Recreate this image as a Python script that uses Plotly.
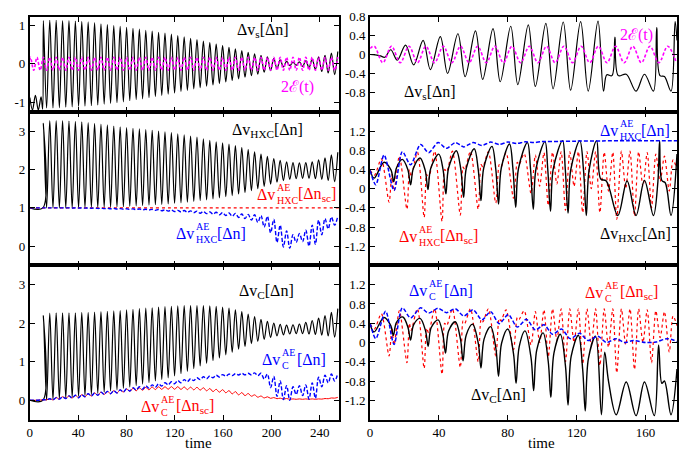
import plotly.graph_objects as go

# ---------------- data ----------------
# left column: extrema times (t >= 11.2) shared by the left-hand curves
LEFT_T = [11.2, 13.85, 16.5, 19.15, 21.8, 24.45, 27.1, 29.75, 32.4, 35.05,
          37.7, 40.35, 43.0, 45.65, 48.3, 50.95, 53.6, 56.25, 58.9, 61.55,
          64.2, 66.85, 69.5, 72.15, 74.8, 77.45, 80.1, 82.75, 85.4, 88.05,
          90.7, 93.35, 96.0, 98.65, 101.3, 103.95, 106.6, 109.25, 111.9, 114.55,
          117.2, 119.85, 122.5, 125.15, 127.8, 130.45, 133.1, 135.75, 138.4, 141.05,
          143.7, 146.35, 149.0, 151.65, 154.3, 156.95, 159.6, 162.25, 164.9, 167.55,
          170.2, 172.85, 175.5, 178.15, 180.8, 183.45, 186.1, 188.75, 191.4, 194.05,
          196.7, 199.35, 202.0, 204.65, 207.3, 209.95, 212.6, 215.25, 217.9, 220.55,
          223.2, 225.85, 228.5, 231.15, 233.8, 236.45, 239.1, 241.75, 244.4, 247.05,
          249.7, 252.35, 255.0]

# top-left: Delta v_s [Delta n]
TL_S_PRE_T = [0, 2.2, 4.6, 7.0, 9.3, 10.6]
TL_S_PRE_V = [-0.88, -1.2, -0.82, -1.2, -0.86, -1.18]
TL_S_V = [1.12, -1.15, 1.13, -1.15, 1.13, -1.14, 1.12, -1.13, 1.12, -1.12,
          1.11, -1.11, 1.1, -1.1, 1.09, -1.09, 1.07, -1.07, 1.04, -1.05,
          1.02, -1.03, 0.99, -1.01, 0.97, -0.99, 0.95, -0.96, 0.92, -0.93,
          0.9, -0.91, 0.87, -0.88, 0.85, -0.85, 0.82, -0.82, 0.8, -0.79,
          0.77, -0.76, 0.73, -0.72, 0.7, -0.69, 0.66, -0.65, 0.63, -0.62,
          0.59, -0.58, 0.55, -0.55, 0.51, -0.51, 0.47, -0.47, 0.43, -0.43,
          0.39, -0.39, 0.34, -0.35, 0.3, -0.31, 0.26, -0.27, 0.22, -0.22,
          0.18, -0.18, 0.14, -0.13, 0.1, -0.08, 0.06, -0.05, 0.04, -0.04,
          0.05, -0.07, 0.08, -0.1, 0.12, -0.15, 0.18, -0.2, 0.22, -0.24,
          0.28, -0.28, 0.32]
# top-left: 2E(t)
TL_E_PRE_T = [0, 0.6, 3.25, 5.9, 8.55]
TL_E_PRE_V = [0.1, 0.17, -0.17, 0.17, -0.17]
TL_E_V = [0.17, -0.17, 0.17, -0.17, 0.17, -0.17, 0.17, -0.17, 0.17, -0.17,
          0.17, -0.17, 0.17, -0.17, 0.17, -0.17, 0.17, -0.17, 0.17, -0.17,
          0.17, -0.17, 0.17, -0.17, 0.17, -0.17, 0.17, -0.17, 0.17, -0.17,
          0.17, -0.17, 0.17, -0.17, 0.17, -0.17, 0.17, -0.17, 0.17, -0.17,
          0.17, -0.17, 0.17, -0.17, 0.17, -0.17, 0.17, -0.17, 0.17, -0.17,
          0.17, -0.17, 0.17, -0.17, 0.17, -0.17, 0.17, -0.17, 0.17, -0.17,
          0.17, -0.17, 0.17, -0.17, 0.17, -0.17, 0.17, -0.17, 0.17, -0.17,
          0.17, -0.17, 0.17, -0.17, 0.17, -0.17, 0.17, -0.17, 0.17, -0.17,
          0.17, -0.17, 0.17, -0.17, 0.17, -0.17, 0.17, -0.17, 0.17, -0.17,
          0.17, -0.17, 0.17]

# middle-left: Delta v_HXC [Delta n]
ML_K_PRE_T = [0, 10.8]
ML_K_PRE_V = [1.0, 1.0]
ML_K_V = [3.2, 1.0, 3.27, 1.0, 3.27, 1.0, 3.27, 1.0, 3.26, 1.0,
          3.25, 1.0, 3.24, 1.01, 3.22, 1.01, 3.2, 1.01, 3.18, 1.02,
          3.16, 1.02, 3.13, 1.03, 3.11, 1.03, 3.09, 1.04, 3.07, 1.05,
          3.06, 1.06, 3.04, 1.07, 3.02, 1.08, 3.0, 1.09, 2.98, 1.1,
          2.96, 1.12, 2.93, 1.13, 2.9, 1.15, 2.87, 1.17, 2.84, 1.19,
          2.8, 1.21, 2.76, 1.23, 2.72, 1.26, 2.69, 1.29, 2.66, 1.32,
          2.62, 1.36, 2.57, 1.4, 2.52, 1.45, 2.46, 1.5, 2.4, 1.56,
          2.34, 1.62, 2.28, 1.67, 2.24, 1.71, 2.2, 1.74, 2.18, 1.76,
          2.17, 1.77, 2.18, 1.77, 2.2, 1.76, 2.25, 1.74, 2.3, 1.71,
          2.38, 1.68, 2.45]
# middle-left: Delta v^AE_HXC [Delta n_sc]
ML_R_T = [0, 128, 256]
ML_R_V = [1.0, 1.0, 1.0]
# middle-left: Delta v^AE_HXC [Delta n]
ML_B_PRE_T = [0, 6.0]
ML_B_PRE_V = [1.0, 1.0]
ML_B_V = [1.0, 0.998, 1.0, 0.998, 1.0, 0.997, 1.0, 0.997, 0.999, 0.995,
          0.999, 0.994, 0.998, 0.992, 0.998, 0.99, 0.995, 0.985, 0.99, 0.98,
          0.988, 0.975, 0.985, 0.97, 0.98, 0.965, 0.977, 0.96, 0.973, 0.955,
          0.97, 0.95, 0.965, 0.943, 0.96, 0.935, 0.955, 0.925, 0.95, 0.915,
          0.945, 0.905, 0.935, 0.895, 0.93, 0.885, 0.92, 0.875, 0.915, 0.86,
          0.905, 0.85, 0.895, 0.835, 0.885, 0.82, 0.875, 0.8, 0.865, 0.78,
          0.855, 0.75, 0.84, 0.72, 0.83, 0.68, 0.82, 0.62, 0.8, 0.5,
          0.78, 0.35, 0.7, 0.1, 0.55, -0.02, 0.4, -0.05, 0.3, 0.1,
          0.33, 0.12, 0.42, 0.0, 0.55, 0.05, 0.68, 0.3, 0.72, 0.45,
          0.76, 0.55, 0.78]

# bottom-left: Delta v_C [Delta n]
BL_K_PRE_T = [0, 10.8]
BL_K_PRE_V = [0.0, 0.0]
BL_K_V = [2.2, 0.0, 2.26, 0.02, 2.27, 0.04, 2.27, 0.06, 2.27, 0.08,
          2.27, 0.1, 2.28, 0.12, 2.28, 0.15, 2.29, 0.18, 2.3, 0.21,
          2.31, 0.24, 2.32, 0.27, 2.33, 0.31, 2.35, 0.34, 2.36, 0.38,
          2.38, 0.42, 2.39, 0.46, 2.4, 0.5, 2.42, 0.54, 2.43, 0.58,
          2.44, 0.63, 2.45, 0.69, 2.46, 0.75, 2.46, 0.82, 2.46, 0.89,
          2.46, 0.96, 2.45, 1.03, 2.44, 1.1, 2.42, 1.18, 2.39, 1.25,
          2.35, 1.33, 2.3, 1.4, 2.24, 1.47, 2.17, 1.53, 2.1, 1.58,
          2.05, 1.63, 2.0, 1.67, 1.97, 1.7, 1.95, 1.72, 1.96, 1.73,
          1.98, 1.73, 2.02, 1.72, 2.07, 1.71, 2.13, 1.69, 2.2, 1.67,
          2.28, 1.64, 2.38]
# bottom-left: Delta v^AE_C [Delta n_sc]
BL_R_PRE_T = [0, 6.0]
BL_R_PRE_V = [0.0, 0.0]
BL_R_V = [0.015, 0.01, 0.04, 0.01, 0.07, 0.03, 0.09, 0.045, 0.115, 0.06,
          0.13, 0.065, 0.145, 0.09, 0.17, 0.11, 0.19, 0.13, 0.21, 0.15,
          0.23, 0.17, 0.25, 0.19, 0.27, 0.215, 0.295, 0.23, 0.31, 0.245,
          0.32, 0.26, 0.335, 0.27, 0.345, 0.277, 0.35, 0.282, 0.353, 0.285,
          0.355, 0.285, 0.353, 0.28, 0.348, 0.275, 0.342, 0.27, 0.337, 0.263,
          0.325, 0.245, 0.305, 0.225, 0.285, 0.21, 0.275, 0.195, 0.25, 0.165,
          0.225, 0.14, 0.2, 0.12, 0.175, 0.105, 0.14, 0.08, 0.11, 0.06,
          0.09, 0.05, 0.07, 0.04, 0.055, 0.03, 0.045, 0.025, 0.035, 0.025,
          0.035, 0.025, 0.035, 0.025, 0.035, 0.025, 0.035, 0.03, 0.045, 0.04,
          0.06, 0.055, 0.075]
# bottom-left: Delta v^AE_C [Delta n]
BL_B_PRE_T = [0, 6.0]
BL_B_PRE_V = [0.0, 0.0]
BL_B_V = [0.015, 0.01, 0.04, 0.01, 0.07, 0.03, 0.09, 0.045, 0.115, 0.06,
          0.13, 0.065, 0.145, 0.09, 0.17, 0.11, 0.19, 0.13, 0.21, 0.15,
          0.23, 0.17, 0.25, 0.19, 0.27, 0.215, 0.3, 0.24, 0.325, 0.265,
          0.35, 0.29, 0.375, 0.315, 0.4, 0.34, 0.425, 0.37, 0.455, 0.4,
          0.48, 0.43, 0.51, 0.455, 0.535, 0.48, 0.56, 0.51, 0.585, 0.535,
          0.61, 0.56, 0.63, 0.585, 0.65, 0.605, 0.665, 0.625, 0.68, 0.64,
          0.69, 0.655, 0.7, 0.66, 0.7, 0.66, 0.71, 0.64, 0.7, 0.55,
          0.68, 0.33, 0.62, 0.1, 0.5, 0.02, 0.38, 0.0, 0.35, 0.15,
          0.38, 0.12, 0.4, 0.03, 0.45, 0.05, 0.6, 0.35, 0.65, 0.45,
          0.68, 0.5, 0.7]

# top-right: Delta v_s [Delta n]
TR_S_T = [0, 3.0, 6.0, 8.5, 12.0, 15.8, 20.6, 25.3, 30.8, 35.0,
          40.8, 45.0, 51.0, 55.2, 61.2, 65.4, 71.4, 75.6, 81.7, 85.8,
          91.9, 96.0, 102.1, 106.3, 112.2, 116.5, 122.3, 126.7, 132.4, 135.6,
          137.5, 140.5, 142.2, 144.2, 148.8, 154.5, 159.4, 164.6, 166.5, 168.4,
          171.0, 174.8, 177.2, 178.3]
TR_S_V = [0.0, -0.01, -0.03, -0.06, 0.1, -0.12, 0.2, -0.22, 0.3, -0.32,
          0.38, -0.4, 0.44, -0.47, 0.5, -0.53, 0.55, -0.58, 0.6, -0.64,
          0.63, -0.68, 0.66, -0.73, 0.69, -0.76, 0.7, -0.78, 0.71, -0.78,
          -0.43, -0.45, 0.37, -0.45, -0.42, -0.78, -0.42, -0.78, 0.57, -0.45,
          -0.47, -0.78, 0.7, 0.3]
# top-right: 2E(t)
TR_E_T = [0, 2.4, 7.4, 12.4, 17.5, 22.6, 27.5, 32.4, 37.45, 42.5,
          47.5, 52.5, 57.5, 62.5, 67.5, 72.5, 77.45, 82.4, 87.45, 92.5,
          97.5, 102.5, 107.5, 112.6, 117.6, 122.6, 127.6, 132.6, 137.6, 142.6,
          147.6, 152.6, 157.6, 162.6, 167.75, 172.9, 177.9]
TR_E_V = [0.13, 0.175, -0.175, 0.175, -0.175, 0.175, -0.175, 0.175, -0.175, 0.175,
          -0.175, 0.175, -0.175, 0.175, -0.175, 0.175, -0.175, 0.175, -0.175, 0.175,
          -0.175, 0.175, -0.175, 0.175, -0.175, 0.175, -0.175, 0.175, -0.175, 0.175,
          -0.175, 0.175, -0.175, 0.175, -0.175, 0.175, -0.175]

# middle-right: Delta v_HXC [Delta n]
MR_K_T = [0, 2.3, 8.1, 12.1, 13.7, 15.3, 18.7, 21.9, 23.5, 25.1,
          29.0, 32.0, 33.6, 35.2, 39.9, 42.4, 44.0, 45.6, 50.1, 52.7,
          54.3, 55.9, 60.5, 62.8, 64.4, 66.0, 70.8, 73.0, 74.6, 76.2,
          81.0, 83.0, 84.6, 86.2, 91.4, 93.2, 94.8, 96.4, 101.6, 103.2,
          104.8, 106.4, 111.8, 113.4, 115.0, 116.6, 121.8, 124.0, 125.6, 127.2,
          131.6, 134.0, 137.2, 143.9, 149.3, 154.5, 159.4, 164.6, 167.2, 168.2,
          169.5, 171.5, 174.8, 178.3]
MR_K_V = [0.38, 0.22, 0.55, 0.39, 0.15, 0.43, 0.61, 0.40, 0.08, 0.42,
          0.64, 0.38, -0.02, 0.42, 0.72, 0.39, -0.11, 0.43, 0.79, 0.40,
          -0.18, 0.43, 0.83, 0.40, -0.25, 0.43, 0.88, 0.41, -0.32, 0.43,
          0.93, 0.40, -0.39, 0.42, 0.96, 0.41, -0.43, 0.42, 0.98, 0.41,
          -0.47, 0.41, 1.0, 0.40, -0.51, 0.40, 1.0, 0.38, -0.56, 0.38,
          1.0, 0.2, 0.16, -0.56, 0.16, -0.56, 0.17, -0.56, 0.15, 1.0,
          0.17, 0.12, -0.56, 0.72]
# middle-right: Delta v^AE_HXC [Delta n]
MR_B_T = [0, 3.3, 8.1, 13.9, 18.7, 23.5, 29.3, 34.0, 39.5, 44.3,
          49.5, 54.4, 59.8, 65.0, 70.0, 75.0, 80.0, 85.0, 90.0, 95.0,
          100.0, 110.0, 120.0, 135.0, 150.0, 165.0, 178.3]
MR_B_V = [0.38, 0.08, 0.7, -0.04, 0.77, 0.5, 0.92, 0.75, 0.96, 0.84,
          0.96, 0.87, 0.96, 0.9, 0.97, 0.92, 0.97, 0.94, 0.975, 0.96,
          0.98, 0.985, 0.99, 0.995, 1.0, 1.0, 1.0]
# right column red dotted curves share these times
RR_T = [0, 2.5, 6.5, 11.0, 12.6, 13.9, 17.0, 21.4, 22.8, 23.8,
        27.5, 31.4, 32.8, 34.0, 37.5, 41.8, 43.3, 44.5, 47.8, 52.4,
        54.0, 55.0, 58.3, 62.8, 64.5, 65.5, 68.7, 73.0, 75.0, 76.0,
        79.0, 83.3, 85.5, 86.5, 89.5, 93.5, 96.0, 98.5, 101.0, 103.5,
        106.0, 108.5, 111.0, 113.5, 116.0, 118.5, 121.0, 123.5, 126.0, 128.5,
        131.0, 133.5, 136.0, 138.5, 141.0, 143.3, 146.0, 148.5, 151.0, 153.6,
        156.0, 158.5, 161.0, 163.5, 166.0, 168.5, 171.0, 173.8, 176.0, 178.3]
# middle-right: Delta v^AE_HXC [Delta n_sc]
MR_R_V = [0.38, 0.28, 0.62, -0.28, 0.3, -0.05, 0.68, -0.43, 0.4, 0.25,
          0.76, -0.6, 0.3, 0.2, 0.78, -0.68, 0.4, 0.35, 0.78, -0.55,
          0.45, 0.4, 0.78, -0.43, 0.5, 0.45, 0.77, -0.3, 0.5, 0.45,
          0.75, -0.2, 0.55, 0.5, 0.73, -0.1, 0.7, 0.05, 0.75, -0.35,
          0.76, 0.1, 0.77, -0.45, 0.77, 0.05, 0.77, -0.5, 0.77, 0.0,
          0.77, -0.5, 0.76, -0.05, 0.76, -0.64, 0.78, 0.0, 0.78, -0.57,
          0.77, 0.05, 0.75, -0.4, 0.72, 0.15, 0.68, -0.05, 0.6, 0.4]
# bottom-right: Delta v^AE_C [Delta n_sc]
BR_R_V = [0.38, 0.28, 0.6, -0.28, 0.3, -0.05, 0.66, -0.42, 0.4, 0.25,
          0.7, -0.54, 0.3, 0.2, 0.7, -0.66, 0.4, 0.35, 0.7, -0.52,
          0.45, 0.4, 0.7, -0.4, 0.48, 0.43, 0.7, -0.28, 0.5, 0.45,
          0.68, -0.15, 0.52, 0.48, 0.66, -0.05, 0.64, 0.0, 0.68, -0.3,
          0.7, 0.05, 0.7, -0.4, 0.7, 0.0, 0.7, -0.45, 0.7, -0.05,
          0.7, -0.48, 0.7, -0.1, 0.7, -0.63, 0.7, -0.05, 0.7, -0.56,
          0.7, 0.0, 0.68, -0.42, 0.66, 0.1, 0.64, -0.2, 0.55, 0.35]
# bottom-right: Delta v_C [Delta n]
BR_K_T = [0, 2.3, 8.1, 12.0, 13.5, 15.3, 19.0, 22.0, 23.5, 25.3,
          29.0, 32.2, 33.7, 35.5, 39.5, 42.3, 43.8, 45.6, 49.5, 52.5,
          54.0, 55.8, 59.5, 62.9, 64.4, 66.2, 70.0, 73.1, 74.6, 76.4,
          80.0, 83.3, 84.8, 86.6, 90.0, 93.5, 95.0, 96.8, 100.5, 103.5,
          105.0, 106.8, 110.5, 113.5, 115.0, 116.8, 121.0, 123.5, 125.0, 126.8,
          131.0, 134.4, 136.3, 138.5, 143.0, 148.8, 154.5, 159.4, 165.1, 167.6,
          169.5, 171.0, 174.8, 178.3]
BR_K_V = [0.38, 0.22, 0.52, 0.35, 0.15, 0.42, 0.53, 0.31, 0.05, 0.37,
          0.5, 0.24, -0.08, 0.31, 0.47, 0.16, -0.22, 0.24, 0.43, 0.07,
          -0.38, 0.15, 0.38, -0.03, -0.53, 0.07, 0.33, -0.13, -0.7, -0.01,
          0.28, -0.23, -0.85, -0.09, 0.24, -0.32, -1.0, -0.16, 0.2, -0.4,
          -1.14, -0.22, 0.17, -0.49, -1.3, -0.29, 0.15, -0.56, -1.42, -0.34,
          0.13, -1.5, -0.2, -0.8, -1.5, -0.82, -1.52, -0.82, -1.52, -0.05,
          -0.85, -0.8, -1.5, -0.55]
# bottom-right: Delta v^AE_C [Delta n]
BR_B_T = [0, 3.3, 9.0, 13.9, 18.7, 23.5, 29.3, 34.0, 39.5, 44.3,
          49.5, 54.4, 59.8, 65.0, 70.0, 75.0, 80.3, 85.5, 90.8, 96.0,
          101.0, 106.0, 111.2, 116.2, 121.8, 126.6, 132.4, 137.2, 143.0, 147.8,
          153.0, 160.0, 166.0, 172.8, 178.3]
BR_B_V = [0.4, 0.08, 0.65, -0.04, 0.72, 0.51, 0.72, 0.61, 0.71, 0.62,
          0.7, 0.55, 0.68, 0.47, 0.64, 0.39, 0.58, 0.32, 0.48, 0.26,
          0.37, 0.17, 0.28, 0.08, 0.19, 0.04, 0.13, 0.0, 0.08, 0.0,
          0.04, 0.0, 0.01, 0.08, 0.02]

# axis ticks
LEFT_XTICKS = [0, 40, 80, 120, 160, 200, 240]
RIGHT_XTICKS = [0, 40, 80, 120, 160]
TL_YTICKS = [-1, 0, 1]
TL_YLABELS = ["-1", "0", "1"]
TR_YTICKS = [-0.8, -0.4, 0, 0.4, 0.8]
TR_YLABELS = ["-0.8", "-0.4", "0", "0.4", "0.8"]
L_YTICKS = [0, 1, 2, 3]
L_YLABELS = ["0", "1", "2", "3"]
R_YTICKS = [-1.2, -0.8, -0.4, 0, 0.4, 0.8, 1.2]
R_YLABELS = ["-1.2", "-0.8", "-0.4", "0", "0.4", "0.8", "1.2"]

# ---------------- figure ----------------
W, H = 679, 453
FONT = "'Liberation Serif', 'Times New Roman', 'DejaVu Serif', serif"
BLACK, RED, BLUE, MAG = "#000000", "#ff0000", "#0000ff", "#ff00ff"

fig = go.Figure()


def add(ax, t, v, color, width, dash="solid", smooth=1.0):
    fig.add_trace(go.Scatter(
        x=t, y=v, xaxis="x" + ax, yaxis="y" + ax, mode="lines",
        line=dict(color=color, width=width, dash=dash, shape="spline",
                  smoothing=smooth),
        hoverinfo="skip", showlegend=False))


# top-left (axis 1 -> '')
add("", TL_S_PRE_T + LEFT_T, TL_S_PRE_V + TL_S_V, BLACK, 1.2)
add("", TL_E_PRE_T + LEFT_T, TL_E_PRE_V + TL_E_V, MAG, 1.6, "3px,2px")
# top-right
add("2", TR_S_T, TR_S_V, BLACK, 1.2, smooth=1.0)
add("2", TR_E_T, TR_E_V, MAG, 1.6, "3px,2px")
# middle-left
add("3", ML_K_PRE_T + LEFT_T, ML_K_PRE_V + ML_K_V, BLACK, 1.2)
add("3", ML_R_T, ML_R_V, RED, 1.2, "dot")
add("3", ML_B_PRE_T + LEFT_T, ML_B_PRE_V + ML_B_V, BLUE, 1.4, "4px,2px")
# middle-right
add("4", RR_T, MR_R_V, RED, 1.2, "dot", 0.8)
add("4", MR_K_T, MR_K_V, BLACK, 1.4, smooth=1.0)
add("4", MR_B_T, MR_B_V, BLUE, 1.5, "4px,2px", 0.8)
# bottom-left
add("5", BL_K_PRE_T + LEFT_T, BL_K_PRE_V + BL_K_V, BLACK, 1.2)
add("5", BL_R_PRE_T + LEFT_T, BL_R_PRE_V + BL_R_V, RED, 1.0)
add("5", BL_B_PRE_T + LEFT_T, BL_B_PRE_V + BL_B_V, BLUE, 1.4, "4px,2px")
# bottom-right
add("6", RR_T, BR_R_V, RED, 1.2, "dot", 0.8)
add("6", BR_K_T, BR_K_V, BLACK, 1.4, smooth=1.0)
add("6", BR_B_T, BR_B_V, BLUE, 1.5, "4px,2px", 0.8)

XL = [27 / W, 338 / W]
XR = [369.3 / W, 678 / W]
Y_BOT = [(H - 419) / H, (H - 262.5) / H]
Y_MID = [(H - 262.5) / H, (H - 106.5) / H]
Y_TOP = [(H - 106.5) / H, (H - 10) / H]

tickfont = dict(family=FONT, size=13, color="black")


def xaxis(domain, rng, ticks, labels, anchor):
    return dict(domain=domain, range=rng, tickvals=ticks,
                ticktext=[str(v) for v in ticks], showticklabels=labels,
                ticks="inside", ticklen=5, tickwidth=1, tickcolor="black",
                mirror="ticks", showline=True, linewidth=1.8, linecolor="black",
                showgrid=False, zeroline=False, anchor=anchor, tickfont=tickfont,
                fixedrange=True)


def yaxis(domain, rng, ticks, labels, anchor):
    return dict(domain=domain, range=rng, tickvals=ticks, ticktext=labels,
                ticks="inside", ticklen=5, tickwidth=1, tickcolor="black",
                mirror="ticks", showline=True, linewidth=1.8, linecolor="black",
                showgrid=False, zeroline=False, anchor=anchor, tickfont=tickfont,
                fixedrange=True)


layout = dict(
    width=W, height=H, margin=dict(l=0, r=0, t=0, b=0, pad=0),
    paper_bgcolor="white", plot_bgcolor="white", showlegend=False,
    font=dict(family=FONT, color="black"),
    xaxis=xaxis(XL, [0, 256], LEFT_XTICKS, False, "y"),
    yaxis=yaxis(Y_TOP, [-1.25, 1.22], TL_YTICKS, TL_YLABELS, "x"),
    xaxis2=xaxis(XR, [0, 178.3], RIGHT_XTICKS, False, "y2"),
    yaxis2=yaxis(Y_TOP, [-1.22, 0.8], TR_YTICKS, TR_YLABELS, "x2"),
    xaxis3=xaxis(XL, [0, 256], LEFT_XTICKS, False, "y3"),
    yaxis3=yaxis(Y_MID, [-0.5, 3.5], L_YTICKS, L_YLABELS, "x3"),
    xaxis4=xaxis(XR, [0, 178.3], RIGHT_XTICKS, False, "y4"),
    yaxis4=yaxis(Y_MID, [-1.6, 1.6], R_YTICKS, R_YLABELS, "x4"),
    xaxis5=xaxis(XL, [0, 256], LEFT_XTICKS, True, "y5"),
    yaxis5=yaxis(Y_BOT, [-0.5, 3.5], L_YTICKS, L_YLABELS, "x5"),
    xaxis6=xaxis(XR, [0, 178.3], RIGHT_XTICKS, True, "y6"),
    yaxis6=yaxis(Y_BOT, [-1.6, 1.6], R_YTICKS, R_YLABELS, "x6"),
)
fig.update_layout(**layout)

ann = []


def simple(ax, x, y, text, color, up=3):
    ann.append(dict(text=text, x=x, y=y, xref="x" + ax, yref="y" + ax,
                    xanchor="center", yanchor="middle", showarrow=False,
                    yshift=up, borderpad=0,
                    font=dict(family=FONT, size=16, color=color)))


def stacked(ax, x, y, sup, sub, tail, color, shift):
    base = dict(x=x, y=y, xref="x" + ax, yref="y" + ax, yanchor="middle",
                showarrow=False, borderpad=0)
    ann.append(dict(base, text="Δv", xanchor="right",
                    font=dict(family=FONT, size=16, color=color)))
    ann.append(dict(base, text=sup, xanchor="left", yshift=7,
                    font=dict(family=FONT, size=10, color=color)))
    ann.append(dict(base, text=sub, xanchor="left", yshift=-6,
                    font=dict(family=FONT, size=10, color=color)))
    ann.append(dict(base, text=tail, xanchor="left", xshift=shift,
                    font=dict(family=FONT, size=16, color=color)))


simple("", 192.7, 0.78, "Δv<sub>s</sub>[Δn]", BLACK)
simple("", 222, -0.61, "2ℰ(t)", MAG, 0)
simple("2", 154.5, 0.41, "2ℰ(t)", MAG, 0)
simple("2", 35, -0.87, "Δv<sub>s</sub>[Δn]", BLACK)
simple("3", 197, 2.94, "Δv<sub>HXC</sub>[Δn]", BLACK)
stacked("3", 204, 1.36, "AE", "HXC", "[Δn<sub>sc</sub>]", RED, 21)
stacked("3", 137, 0.33, "AE", "HXC", "[Δn]", BLUE, 21)
simple("4", 154, -1.02, "Δv<sub>HXC</sub>[Δn]", BLACK)
stacked("4", 144.6, 1.22, "AE", "HXC", "[Δn]", BLUE, 21)
stacked("4", 28.1, -1.0, "AE", "HXC", "[Δn<sub>sc</sub>]", RED, 21)
simple("5", 196, 2.74, "Δv<sub>C</sub>[Δn]", BLACK)
stacked("5", 208, 1.07, "AE", "C", "[Δn]", BLUE, 15)
stacked("5", 108, -0.17, "AE", "C", "[Δn<sub>sc</sub>]", RED, 15)
stacked("6", 33.9, 1.07, "AE", "C", "[Δn]", BLUE, 15)
stacked("6", 136, 1.03, "AE", "C", "[Δn<sub>sc</sub>]", RED, 15)
simple("6", 74.4, -1.17, "Δv<sub>C</sub>[Δn]", BLACK)

for xc in (196.7 / W, 541.7 / W):
    ann.append(dict(text="time", x=xc, y=(H - 443) / H, xref="paper",
                    yref="paper", xanchor="center", yanchor="middle",
                    showarrow=False, font=dict(family=FONT, size=15, color="black")))

fig.update_layout(annotations=ann)
fig.write_html("out.html", config={"displayModeBar": False},
               post_script="document.body.style.margin='0px';"
                           "document.body.style.overflow='hidden';")
